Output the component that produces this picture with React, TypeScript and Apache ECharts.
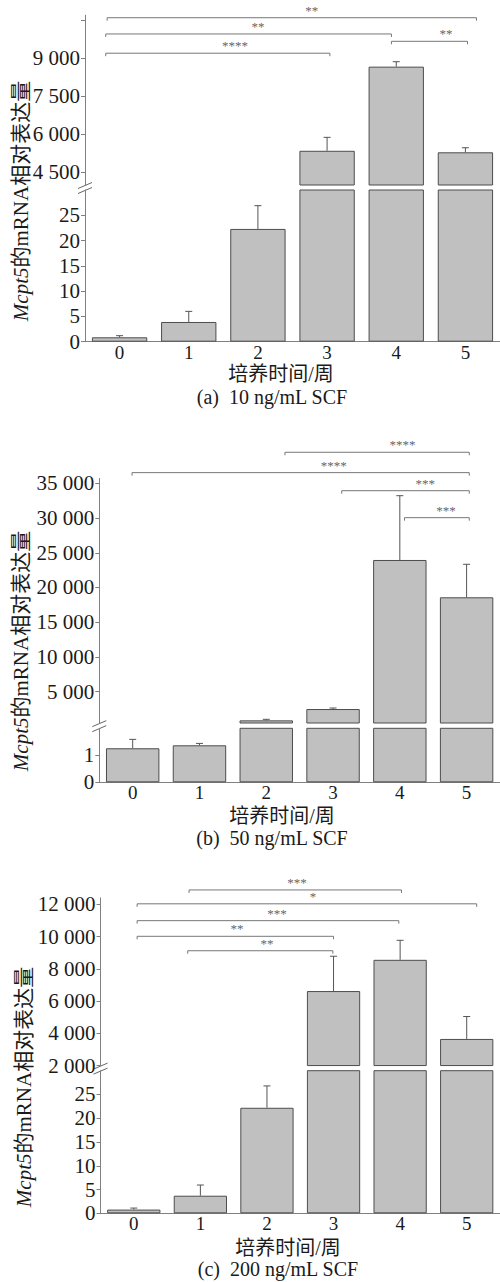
import React, { useEffect, useRef } from "react";
import * as echarts from "echarts";

const categories = ["0", "1", "2", "3", "4", "5"];

// (a) 10 ng/mL SCF
const meanA = [0.87, 3.9, 22.3, 5350, 8670, 5290];
const errA = [0.32, 2.1, 4.6, 530, 195, 180];
const upperLabelsA = [4500, 6000, 7500, 9000];
const upperTicksA = [4500, 6000, 7500, 9000, 10500];
const lowerLabelsA = [0, 5, 10, 15, 20, 25];
// [from category, to category, level, stars, label position]
const bracketsA: [number, number, number, string, number][] = [
  [-0.18, 5.16, 10600, "**", 2.78],
  [-0.2, 3.93, 9960, "**", 2.0],
  [3.93, 5.03, 9670, "**", 4.72],
  [-0.2, 3.04, 9200, "****", 1.67],
];

// (b) 50 ng/mL SCF
const meanB = [1.26, 1.37, 880, 2510, 23960, 18590];
const errB = [0.33, 0.07, 150, 145, 9250, 4750];
const upperLabelsB = [5000, 10000, 15000, 20000, 25000, 30000, 35000];
const upperTicksB = [5000, 10000, 15000, 20000, 25000, 30000, 35000];
const lowerLabelsB = [0, 1];
const bracketsB: [number, number, number, string, number][] = [
  [2.28, 5.04, 39460, "****", 4.04],
  [-0.01, 5.04, 36530, "****", 3.01],
  [3.13, 5.04, 33930, "***", 4.38],
  [4.07, 5.04, 30050, "***", 4.69],
];

// (c) 200 ng/mL SCF
const meanC = [0.78, 3.7, 22.2, 6620, 8557, 3650];
const errC = [0.32, 2.25, 4.6, 2160, 1210, 1390];
const upperLabelsC = [2000, 4000, 6000, 8000, 10000, 12000];
const upperTicksC = [2000, 4000, 6000, 8000, 10000, 12000];
const lowerLabelsC = [0, 5, 10, 15, 20, 25];
const bracketsC: [number, number, number, string, number][] = [
  [0.83, 4.02, 12890, "***", 2.45],
  [0.05, 5.15, 12030, "*", 2.69],
  [0.05, 3.98, 10985, "***", 2.15],
  [0.05, 3.0, 10015, "**", 1.55],
  [0.81, 2.99, 9120, "**", 2.0],
];

const yTitle = "{i|Mcpt5}{n|的mRNA相对表达量}";
const xTitle = "培养时间/周";
const captions = ["(a)  10 ng/mL SCF", "(b)  50 ng/mL SCF", "(c)  200 ng/mL SCF"];

const FONT = "'Liberation Serif', 'Times New Roman', 'Noto Sans CJK SC', serif";

const panels = [
  {
    mean: meanA, err: errA, brackets: bracketsA,
    upperLabels: upperLabelsA, upperTicks: upperTicksA, lowerLabels: lowerLabelsA,
    left: 85, width: 415, uTop: 15.2, uBottom: 185, lTop: 190, lBottom: 341.7,
    uMin: 4000, uMax: 10700, lMax: 30,
    yT: [21, 201], xT: [281, 374], cap: [272, 397],
  },
  {
    mean: meanB, err: errB, brackets: bracketsB,
    upperLabels: upperLabelsB, upperTicks: upperTicksB, lowerLabels: lowerLabelsB,
    left: 99.3, width: 404.4, uTop: 478.4, uBottom: 723, lTop: 728.3, lBottom: 782.3,
    uMin: 500, uMax: 35700, lMax: 2,
    yT: [21, 651], xT: [282, 816], cap: [272, 838],
  },
  {
    mean: meanC, err: errC, brackets: bracketsC,
    upperLabels: upperLabelsC, upperTicks: upperTicksC, lowerLabels: lowerLabelsC,
    left: 100.5, width: 400, uTop: 897.85, uBottom: 1065.55, lTop: 1070.7, lBottom: 1213.3,
    uMin: 2000, uMax: 12400, lMax: 30,
    yT: [24, 1087], xT: [288, 1248], cap: [278, 1269],
  },
];

const fmt = (v: number) =>
  v >= 1000 ? `${Math.floor(v / 1000)} ${String(v % 1000).padStart(3, "0")}` : String(v);

const AXIS_COLOR = "#808080";
const TEXT_COLOR = "#1a1a1a";

function buildOption() {
  const grid: any[] = [];
  const xAxis: any[] = [];
  const yAxis: any[] = [];
  const series: any[] = [];
  const graphic: any[] = [];

  panels.forEach((p, pi) => {
    const ui = pi * 2;
    const li = pi * 2 + 1;
    grid.push({ left: p.left, width: p.width, top: p.uTop, height: p.uBottom - p.uTop });
    grid.push({ left: p.left, width: p.width, top: p.lTop, height: p.lBottom - p.lTop });

    xAxis.push({
      type: "category", gridIndex: ui, data: categories,
      axisLine: { show: false }, axisTick: { show: false }, axisLabel: { show: false },
    });
    xAxis.push({
      type: "category", gridIndex: li, data: categories,
      axisLine: { show: true, lineStyle: { color: AXIS_COLOR, width: 1 } },
      axisTick: { show: false },
      axisLabel: { fontFamily: FONT, fontSize: 19, color: TEXT_COLOR, margin: 1 },
    });

    const yCommon = {
      type: "value",
      splitLine: { show: false },
      axisLine: { show: true, lineStyle: { color: AXIS_COLOR, width: 1 } },
    };
    yAxis.push({
      ...yCommon, gridIndex: ui, min: p.uMin, max: p.uMax,
      axisTick: { show: true, length: 4, customValues: p.upperTicks, lineStyle: { color: AXIS_COLOR } },
      axisLabel: {
        customValues: p.upperLabels, formatter: (v: number) => fmt(v),
        fontFamily: FONT, fontSize: 21, lineHeight: 16, color: TEXT_COLOR, margin: 5,
      },
    });
    yAxis.push({
      ...yCommon, gridIndex: li, min: 0, max: p.lMax,
      axisTick: { show: true, length: 4, customValues: p.lowerLabels, lineStyle: { color: AXIS_COLOR } },
      axisLabel: {
        customValues: p.lowerLabels, formatter: (v: number) => fmt(v),
        fontFamily: FONT, fontSize: 21, lineHeight: 16, color: TEXT_COLOR, margin: 5,
      },
    });

    const barStyle = { color: "#c0c0c0", borderColor: "#4d4d4d", borderWidth: 1 };
    series.push({
      type: "bar", xAxisIndex: ui, yAxisIndex: ui, barCategoryGap: "20%", clip: true,
      itemStyle: barStyle, silent: true,
      data: p.mean.map((v) => (v > p.uMin ? v : "-")),
    });
    series.push({
      type: "bar", xAxisIndex: li, yAxisIndex: li, barCategoryGap: "20%", clip: true,
      itemStyle: barStyle, silent: true,
      data: p.mean,
    });

    const errRender = (params: any, api: any) => {
      const i = api.value(0);
      const m = api.value(1);
      const e = api.value(2);
      const p0 = api.coord([i, m]);
      const p1 = api.coord([i, m + e]);
      const st = { stroke: "#555", lineWidth: 1 };
      return {
        type: "group",
        children: [
          { type: "line", shape: { x1: p0[0], y1: p0[1], x2: p1[0], y2: p1[1] }, style: st },
          { type: "line", shape: { x1: p1[0] - 3.5, y1: p1[1], x2: p1[0] + 3.5, y2: p1[1] }, style: st },
        ],
      };
    };
    const upErr: any[] = [];
    const loErr: any[] = [];
    p.mean.forEach((m, i) => {
      if (m > p.uMin) upErr.push([i, m, p.err[i]]);
      if (m < p.lMax) loErr.push([i, m, p.err[i]]);
    });
    series.push({
      type: "custom", xAxisIndex: ui, yAxisIndex: ui, z: 5, clip: false, silent: true,
      encode: { x: 0, y: 1 }, data: upErr, renderItem: errRender,
    });
    series.push({
      type: "custom", xAxisIndex: li, yAxisIndex: li, z: 5, clip: false, silent: true,
      encode: { x: 0, y: 1 }, data: loErr, renderItem: errRender,
    });

    const brs = p.brackets;
    series.push({
      type: "custom", xAxisIndex: ui, yAxisIndex: ui, z: 5, clip: false, silent: true,
      encode: { x: 0, y: 1 },
      data: brs.map((b) => [0, b[2]]),
      renderItem: (params: any, api: any) => {
        const b = brs[params.dataIndex];
        const base = api.coord([0, b[2]]);
        const band = api.size([1, 0])[0];
        const x1 = base[0] + b[0] * band;
        const x2 = base[0] + b[1] * band;
        const xt = base[0] + b[4] * band;
        const y = base[1];
        const st = { stroke: "#777", lineWidth: 1 };
        return {
          type: "group",
          children: [
            { type: "line", shape: { x1, y1: y, x2, y2: y }, style: st },
            { type: "line", shape: { x1, y1: y, x2: x1, y2: y + 3 }, style: st },
            { type: "line", shape: { x1: x2, y1: y, x2, y2: y + 3 }, style: st },
            {
              type: "text", x: xt, y: y - 1,
              style: {
                text: b[3], fill: "#666", fontFamily: FONT, fontSize: 13,
                align: "center", verticalAlign: "bottom",
              },
            },
          ],
        };
      },
    });

    // axis break marks
    const c = (p.uBottom + p.lTop) / 2;
    const ax = p.left;
    const bst = { stroke: "#666", lineWidth: 1 };
    graphic.push({ type: "line", shape: { x1: ax - 7, y1: c + 1, x2: ax + 7, y2: c - 5 }, style: bst, silent: true });
    graphic.push({ type: "line", shape: { x1: ax - 7, y1: c + 6, x2: ax + 7, y2: c }, style: bst, silent: true });

    graphic.push({
      type: "text", x: p.yT[0], y: p.yT[1], rotation: Math.PI / 2, silent: true,
      style: {
        text: yTitle, align: "center", verticalAlign: "middle", fill: TEXT_COLOR,
        fontFamily: FONT, fontSize: 21,
        rich: {
          i: { fontStyle: "italic", fontFamily: FONT, fontSize: 21, fill: TEXT_COLOR },
          n: { fontFamily: FONT, fontSize: 21, fill: TEXT_COLOR },
        },
      },
    });
    graphic.push({
      type: "text", x: p.xT[0], y: p.xT[1], silent: true,
      style: { text: xTitle, align: "center", verticalAlign: "middle", fill: TEXT_COLOR, fontFamily: FONT, fontSize: 20, lineHeight: 18 },
    });
    graphic.push({
      type: "text", x: p.cap[0], y: p.cap[1], silent: true,
      style: { text: captions[pi], align: "center", verticalAlign: "middle", fill: TEXT_COLOR, fontFamily: FONT, fontSize: 20, lineHeight: 18 },
    });
  });

  return {
    animation: false,
    backgroundColor: "#ffffff",
    grid, xAxis, yAxis, series, graphic,
  };
}

export default function App() {
  const ref = useRef<HTMLDivElement>(null);
  useEffect(() => {
    if (!ref.current) return;
    const chart = echarts.init(ref.current, undefined, { renderer: "svg" });
    chart.setOption(buildOption() as any);
    return () => chart.dispose();
  }, []);
  return (
    <div
      ref={ref}
      style={{ position: "absolute", left: 0, top: 0, width: 500, height: 1282, background: "#fff" }}
    />
  );
}
